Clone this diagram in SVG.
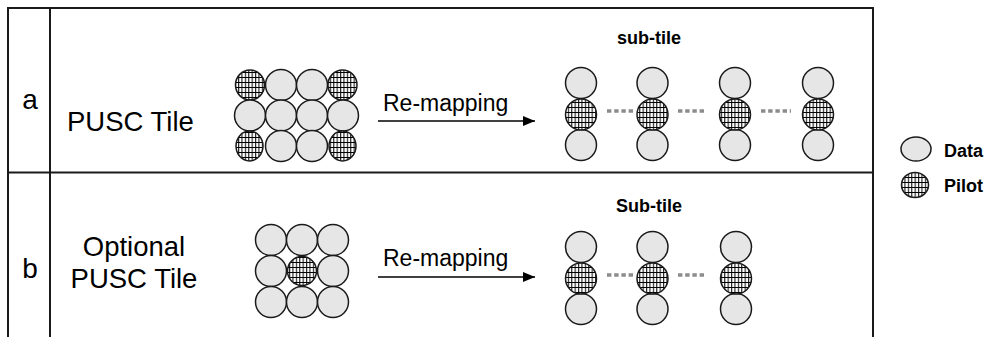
<svg xmlns="http://www.w3.org/2000/svg" width="989" height="337" viewBox="0 0 989 337">
  <defs>
    <!-- square grid hatch used for pilot sub-carriers -->
    <pattern id="grid" patternUnits="userSpaceOnUse" width="3.4" height="5">
      <rect width="3.4" height="5" fill="#ffffff"/>
      <path d="M0.6 0V5M0 2.5H3.4" stroke="#000" stroke-width="1"/>
    </pattern>
    <marker id="arrow" viewBox="0 0 12 10" refX="12" refY="5" markerWidth="12" markerHeight="10" markerUnits="userSpaceOnUse" orient="auto">
      <path d="M0 0L12 5L0 10Z" fill="#000"/>
    </marker>
  </defs>
  <style>
    .frame { stroke: #1a1a1a; stroke-width: 2; fill: none; }
    .data { fill: #e6e6e6; stroke: #1a1a1a; stroke-width: 1.5; }
    .pilot { fill: url(#grid); stroke: #1a1a1a; stroke-width: 1.5; }
    .lbl { font-family: "Liberation Sans", Arial, sans-serif; fill: #000; }
    .bold { font-family: "Liberation Sans", Arial, sans-serif; font-weight: bold; fill: #000; }
    .dots { stroke: #8c8c8c; stroke-width: 3.5; stroke-dasharray: 4.4 2.8; fill: none; }
    .conn { stroke: #000; stroke-width: 1.5; fill: none; }
  </style>

  <!-- table frame -->
  <g id="frame">
    <path class="frame" d="M8 337V8H873V337"/>
    <path class="frame" d="M50 8V337"/>
    <path class="frame" d="M8 172.5H873"/>
  </g>

  <!-- row a -->
  <g id="row-a-label">
    <text class="lbl" x="30" y="109" font-size="28" text-anchor="middle">a</text>
    <text class="lbl" x="67" y="131" font-size="27.5">PUSC Tile</text>
  </g>

  <g id="pusc-tile">
    <ellipse class="pilot" cx="250" cy="85" rx="14.5" ry="15"/>
    <circle class="data" cx="281" cy="85" r="15.5"/>
    <circle class="data" cx="312" cy="85" r="15.5"/>
    <ellipse class="pilot" cx="342.5" cy="85" rx="14.5" ry="15"/>
    <circle class="data" cx="250" cy="115.5" r="15.5"/>
    <circle class="data" cx="281" cy="115.5" r="15.5"/>
    <circle class="data" cx="312" cy="115.5" r="15.5"/>
    <circle class="data" cx="343" cy="115.5" r="15.5"/>
    <ellipse class="pilot" cx="249.5" cy="146" rx="13.5" ry="15"/>
    <circle class="data" cx="281" cy="146" r="15.5"/>
    <circle class="data" cx="312" cy="146" r="15.5"/>
    <ellipse class="pilot" cx="342.5" cy="146" rx="13.5" ry="15"/>
  </g>

  <g id="subtiles-a">
    <text class="bold" x="649" y="44" font-size="18" text-anchor="middle">sub-tile</text>
    <g id="subtile-a1">
      <circle class="data" cx="581" cy="83" r="15.5"/>
      <circle class="data" cx="581" cy="145" r="15.5"/>
      <circle class="pilot" cx="581" cy="114.5" r="15.5"/>
    </g>
    <g id="subtile-a2">
      <circle class="data" cx="652.5" cy="83" r="15.5"/>
      <circle class="data" cx="652.5" cy="145" r="15.5"/>
      <circle class="pilot" cx="652.5" cy="114.5" r="15.5"/>
    </g>
    <g id="subtile-a3">
      <circle class="data" cx="735" cy="83" r="15.5"/>
      <circle class="data" cx="735" cy="145" r="15.5"/>
      <circle class="pilot" cx="735" cy="114.5" r="15.5"/>
    </g>
    <g id="subtile-a4">
      <circle class="data" cx="818" cy="83" r="15.5"/>
      <circle class="data" cx="818" cy="145" r="15.5"/>
      <circle class="pilot" cx="818" cy="114.5" r="15.5"/>
    </g>
  </g>

  <!-- row b -->
  <g id="row-b-label">
    <text class="lbl" x="30" y="278" font-size="28" text-anchor="middle">b</text>
    <text class="lbl" x="134" y="256" font-size="27.5" text-anchor="middle">Optional</text>
    <text class="lbl" x="134" y="288" font-size="27.5" text-anchor="middle">PUSC Tile</text>
  </g>

  <g id="optional-pusc-tile">
    <circle class="data" cx="271" cy="240" r="15.5"/>
    <circle class="data" cx="302" cy="240" r="15.5"/>
    <circle class="data" cx="333" cy="240" r="15.5"/>
    <circle class="data" cx="271" cy="271" r="15.5"/>
    <circle class="data" cx="333" cy="271" r="15.5"/>
    <circle class="data" cx="271" cy="302" r="15.5"/>
    <circle class="data" cx="302" cy="302" r="15.5"/>
    <circle class="data" cx="333" cy="302" r="15.5"/>
    <circle class="pilot" cx="302" cy="271" r="14.5"/>
  </g>

  <g id="subtiles-b">
    <text class="bold" x="649" y="212" font-size="18" text-anchor="middle">Sub-tile</text>
    <g id="subtile-b1">
      <circle class="data" cx="581" cy="247" r="15.5"/>
      <circle class="data" cx="581" cy="309" r="15.5"/>
      <circle class="pilot" cx="581" cy="278.5" r="15.5"/>
    </g>
    <g id="subtile-b2">
      <circle class="data" cx="652.5" cy="247" r="15.5"/>
      <circle class="data" cx="652.5" cy="309" r="15.5"/>
      <circle class="pilot" cx="652.5" cy="278.5" r="15.5"/>
    </g>
    <g id="subtile-b3">
      <circle class="data" cx="736" cy="247" r="15.5"/>
      <circle class="data" cx="736" cy="309" r="15.5"/>
      <circle class="pilot" cx="736" cy="278.5" r="15.5"/>
    </g>
  </g>

  <!-- legend -->
  <g id="legend">
    <g id="legend-data">
      <ellipse class="data" cx="916" cy="149" rx="15" ry="12"/>
      <text class="bold" x="944" y="157" font-size="18">Data</text>
    </g>
    <g id="legend-pilot">
      <ellipse class="pilot" cx="915" cy="185" rx="13.5" ry="12.5"/>
      <text class="bold" x="944" y="192" font-size="18">Pilot</text>
    </g>
  </g>

  <!-- connectors: re-mapping arrows and dotted spacers -->
  <g id="connectors">
    <text class="lbl" x="383" y="111" font-size="23">Re-mapping</text>
    <path class="conn" d="M378 121H535" marker-end="url(#arrow)"/>
    <text class="lbl" x="383" y="266" font-size="23">Re-mapping</text>
    <path class="conn" d="M378 277H535" marker-end="url(#arrow)"/>
    <path class="dots" d="M607 111H634"/>
    <path class="dots" d="M678 111H705"/>
    <path class="dots" d="M761 111H791"/>
    <path class="dots" d="M607 275H634"/>
    <path class="dots" d="M678 275H705"/>
  </g>
</svg>
